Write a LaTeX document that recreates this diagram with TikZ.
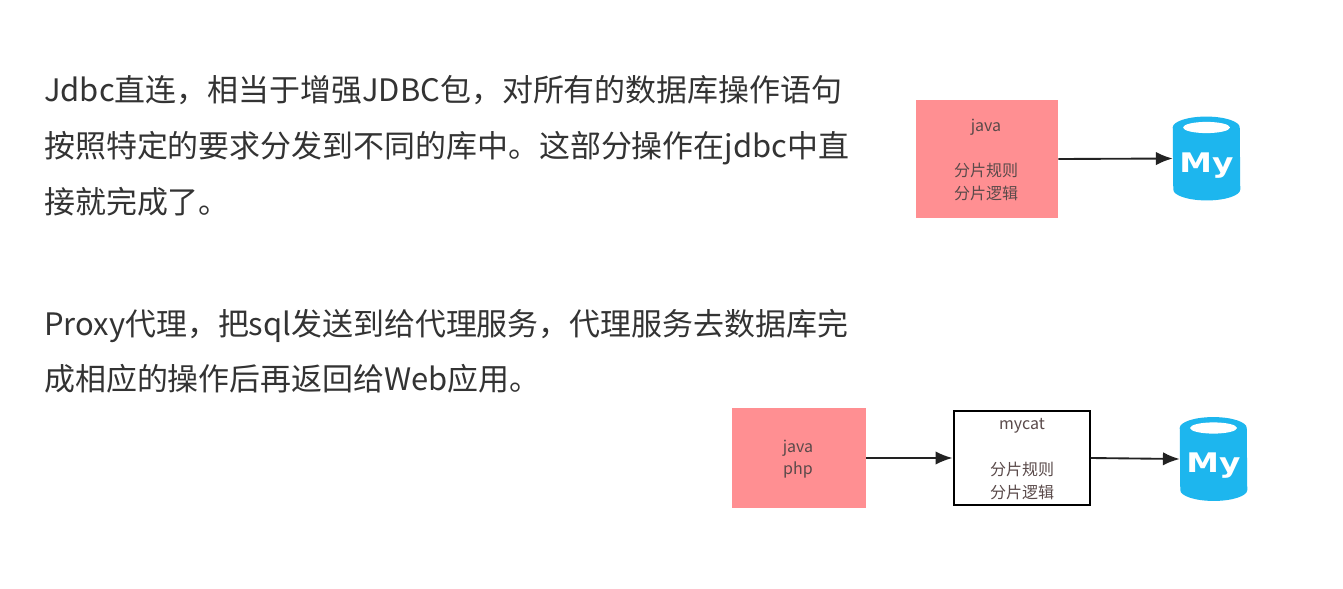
\documentclass[tikz,border=0pt]{standalone}
\usepackage{fontspec}
\setmainfont{Noto Sans CJK SC}
\newfontfamily\mylogo{DejaVu Sans}[BoldFont={DejaVu Sans Bold}]
\definecolor{bodytext}{HTML}{333333}
\definecolor{labeltext}{HTML}{5A4A4A}
\definecolor{pinkbox}{HTML}{FF8F92}
\definecolor{dbblue}{HTML}{1DB6EE}
\definecolor{arrowcol}{HTML}{222222}
\tikzset{
  para/.style={anchor=base west,inner sep=0pt,text=bodytext,font=\fontsize{23.2pt}{28pt}\selectfont},
  pinkrect/.style={fill=pinkbox,draw=none,inner sep=0pt,align=center},
  whiterect/.style={fill=white,draw=black,line width=1.5pt,inner sep=0pt,align=center},
  boxlabel/.style={inner sep=0pt,text=labeltext,font=\fontsize{12pt}{14pt}\selectfont,anchor=center},
  flow/.style={draw=arrowcol,line width=1.4pt,-{Latex[length=14pt*0.9,width=10pt]}},
  dbnode/.style={inner sep=0pt,minimum width=50.25pt,minimum height=62.5pt,draw=none},
  dblabel/.style={inner sep=0pt,text=white,font=\mylogo\bfseries\fontsize{22pt}{24pt}\selectfont}
}
\usetikzlibrary{arrows.meta}
\newcommand{\dbicon}[2]{%
  \node[dbnode] (#1) at (#2) {};
  \fill[dbblue] (#1.north west) ++(0,-8.2pt)
    arc[start angle=180,end angle=0,x radius=25.125pt,y radius=8.2pt]
    -- ([yshift=8.2pt]#1.south east)
    arc[start angle=0,end angle=-180,x radius=25.125pt,y radius=8.2pt] -- cycle;
  \fill[white] ([yshift=-8.2pt]#1.north) ellipse[x radius=17.6pt,y radius=4.2pt];
  \node[dblabel] (#1logo) at ([yshift=-5pt]#1.center) {\scalebox{1.12}[0.92]{My}};
}
\begin{document}
\begin{tikzpicture}[x=0.75pt,y=-0.75pt]
\useasboundingbox (0,0) rectangle (1343,589);
\fill[white] (0,0) rectangle (1343,589);
% paragraphs
\node[para] (l1) at (44,101) {Jdbc直连，相当于增强JDBC包，对所有的数据库操作语句};
\node[para] (l2) at (44,157) {按照特定的要求分发到不同的库中。这部分操作在jdbc中直};
\node[para] (l3) at (44,213) {接就完成了。};
\node[para] (l4) at (44,335) {Proxy代理，把sql发送到给代理服务，代理服务去数据库完};
\node[para] (l5) at (44,390) {成相应的操作后再返回给Web应用。};
% top diagram
\node[pinkrect,minimum width=106.5pt,minimum height=88.5pt] (javaA) at (987,159) {};
\node[boxlabel] (javaAt) at (986,127) {java};
\node[boxlabel] (ruleA) at (986,170) {分片规则};
\node[boxlabel] (logicA) at (986,193) {分片逻辑};
\dbicon{dbA}{1206.5,158.5}
\draw[flow] (javaA.east) -- (dbA.west);
% bottom diagram
\node[pinkrect,minimum width=100.5pt,minimum height=75pt] (javaB) at (799,458) {};
\node[boxlabel] (javaBt) at (798,448) {java};
\node[boxlabel] (phpB) at (798,470) {php};
\node[whiterect,minimum width=102pt,minimum height=71pt] (mycat) at (1021.5,458) {};
\node[boxlabel] (mycatt) at (1022,426) {mycat};
\node[boxlabel] (ruleB) at (1022,469) {分片规则};
\node[boxlabel] (logicB) at (1022,492) {分片逻辑};
\dbicon{dbB}{1213.5,459}
\draw[flow] (javaB.east) -- (mycat.west);
\draw[flow] (mycat.east) -- (dbB.west);
\end{tikzpicture}
\end{document}
